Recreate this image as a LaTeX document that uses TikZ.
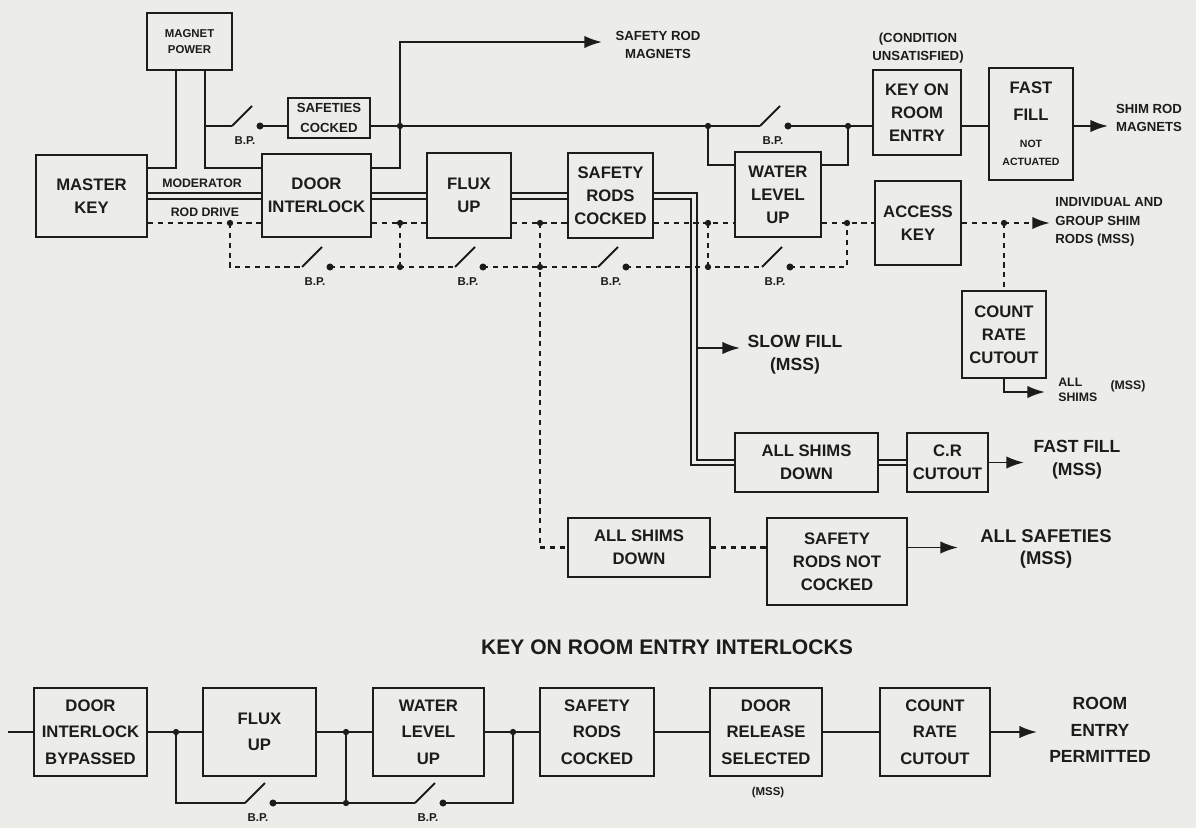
\documentclass[tikz,border=0pt]{standalone}
\usepackage{fontspec}
\setmainfont{Liberation Sans}
\usetikzlibrary{arrows.meta}
\definecolor{paper}{RGB}{236,236,233}
\definecolor{ink}{RGB}{28,28,28}
\tikzset{
  wire/.style={draw=ink, line width=1.1pt},
  arr/.style={wire, -{Latex[length=10pt,width=7pt]}},
  dotl/.style={draw=ink, line width=1.4pt, dash pattern=on 3pt off 2.6pt},
  darr/.style={dotl, -{Latex[length=10pt,width=7pt]}},
  dbl/.style={draw=ink, line width=1pt, double=paper, double distance=2.2pt},
  blk/.style={draw=ink, line width=1.2pt, align=center, inner sep=0.5pt, text=ink,
    font=\bfseries\fontsize{9.5}{13}\selectfont},
  bblk/.style={font=\bfseries\fontsize{9.5}{15}\selectfont},
  smallb/.style={font=\bfseries\fontsize{6.5}{9}\selectfont},
  midb/.style={font=\bfseries\fontsize{7.5}{11}\selectfont},
  lbl/.style={align=center, inner sep=0pt, text=ink, font=\bfseries\fontsize{7.5}{10.5}\selectfont},
  biglbl/.style={align=center, inner sep=0pt, text=ink, font=\bfseries\fontsize{10}{13}\selectfont},
  bp/.style={inner sep=0pt, text=ink, font=\bfseries\fontsize{6.5}{7}\selectfont}
}
\newcommand{\bx}[7][]{\node[blk,#1,minimum width={(#5-#3)*0.02cm},minimum height={(#6-#4)*0.02cm}] (#2) at ({(#3+#5)/2},{(#4+#6)/2}) {#7};}
\newcommand{\BPsw}[3]{%
  \coordinate (#1a) at (#2,#3);
  \coordinate (#1b) at ({#2+28},#3);
  \draw[wire] (#1a) -- ++(20,-20);
  \fill[ink] (#1b) circle (2pt);
  \node[bp] (#1l) at ({#2+13},{#3+15}) {B.P.};
}
\newcommand{\jd}[1]{\fill[ink] (#1) circle (1.8pt);}
\begin{document}
\begin{tikzpicture}[x=0.02cm,y=-0.02cm]
\fill[paper] (0,0) rectangle (1196,828);
\useasboundingbox (0,0) rectangle (1196,828);

% ---------- top boxes ----------
\bx[smallb]{mpow}{147}{13}{232}{70}{MAGNET\\POWER}
\bx{mkey}{36}{155}{147}{237}{MASTER\\KEY}
\bx[midb]{safc}{288}{98}{370}{138}{SAFETIES\\COCKED}
\bx{door}{262}{154}{371}{237}{DOOR\\INTERLOCK}
\bx{flux}{427}{153}{511}{238}{FLUX\\UP}
\bx{src}{568}{153}{653}{238}{SAFETY\\RODS\\COCKED}
\bx{wlu}{735}{152}{821}{237}{WATER\\LEVEL\\UP}
\bx{kre}{873}{70}{961}{155}{KEY ON\\ROOM\\ENTRY}
\bx{ffna}{989}{68}{1073}{180}{}
\node[biglbl, font=\bfseries\fontsize{9.5}{15}\selectfont] (fft) at (1031,101) {FAST\\FILL};
\node[bp, align=center, font=\bfseries\fontsize{6}{10}\selectfont] (nat) at (1031,153) {NOT\\ACTUATED};
\bx{akey}{875}{181}{961}{265}{ACCESS\\KEY}
\bx{crc}{962}{291}{1046}{378}{COUNT\\RATE\\CUTOUT}
\bx{asd}{735}{433}{878}{492}{ALL SHIMS\\DOWN}
\bx{crb}{907}{433}{988}{492}{C.R\\CUTOUT}
\bx{asdb}{568}{518}{710}{577}{ALL SHIMS\\DOWN}
\bx{srnc}{767}{518}{907}{605}{SAFETY\\RODS NOT\\COCKED}

% ---------- top labels ----------
\node[lbl] (cond) at (918,48) {(CONDITION\\UNSATISFIED)};
\node[lbl] (srmt) at (658,45) {SAFETY ROD\\MAGNETS};
\node[lbl] (shmt) at (1149,118) {SHIM ROD\\MAGNETS};
\node[lbl, font=\bfseries\fontsize{7}{9}\selectfont] (modt) at (202,183) {MODERATOR};
\node[lbl, font=\bfseries\fontsize{7}{9}\selectfont] (rodt) at (205,212) {ROD DRIVE};
\node[lbl, align=left, anchor=west, font=\bfseries\fontsize{7.5}{10.5}\selectfont] (indt) at (1055,222) {INDIVIDUAL AND\\GROUP SHIM\\RODS (MSS)};
\node[biglbl] (slowt) at (795,355) {SLOW FILL\\(MSS)};
\node[biglbl] (fastt) at (1077,460) {FAST FILL\\(MSS)};
\node[biglbl, font=\bfseries\fontsize{10.5}{13}\selectfont] (allst) at (1046,549) {ALL SAFETIES\\(MSS)};
\node[lbl, align=left, anchor=west, font=\bfseries\fontsize{7}{8.5}\selectfont] (shimt) at (1058,390) {ALL\\SHIMS};
\node[lbl, font=\bfseries\fontsize{7}{8.5}\selectfont] (mssc) at (1128,386) {(MSS)};

% ---------- solid magnet network ----------
\coordinate (mpL) at (176,70);
\coordinate (mpR) at (205,70);
\draw[wire] (mpL) |- (mkey.east |- 0,168);
\draw[wire] (mpR) |- (door.west |- 0,168);
\BPsw{sa}{232}{126}
\draw[wire] (mpR |- saa) -- (saa);
\draw[wire] (sab) -- (safc.west |- sab);
\coordinate (J1) at (400,126);
\coordinate (K1) at (708,126);
\coordinate (L1) at (848,126);
\coordinate (srm) at (602,42);
\draw[wire] (safc.east |- J1) -- (J1);
\draw[arr] (door.east |- 0,168) -| (srm -| J1) -- (srm);
\BPsw{sb}{760}{126}
\draw[wire] (J1) -- (K1) -- (sba);
\draw[wire] (sbb) -- (L1) -- (kre.west |- L1);
\draw[wire] (K1) |- (wlu.west |- 0,165);
\draw[wire] (wlu.east |- 0,165) -| (L1);
\draw[wire] (kre.east |- L1) -- (ffna.west |- L1);
\coordinate (shm) at (1108,126);
\draw[arr] (ffna.east |- shm) -- (shm);
\jd{J1} \jd{K1} \jd{L1}

% ---------- double lines ----------
\coordinate (dv) at (694,462.5);
\draw[dbl] (mkey.east |- 0,196) -- (door.west |- 0,196);
\draw[dbl] (door.east |- 0,196) -- (flux.west |- 0,196);
\draw[dbl] (flux.east |- 0,196) -- (src.west |- 0,196);
\draw[dbl] (src.east |- 0,196) -| (dv) -- (asd.west);
\draw[dbl] (asd.east) -- (crb.west |- asd.east);
\coordinate (slw) at (697.8,348);
\draw[arr] (slw) -- (740,348);
\coordinate (ffo) at (1024,462.5);
\draw[arr] (crb.east |- ffo) -- (ffo);

% ---------- dotted network ----------
\coordinate (D1) at (230,223);
\coordinate (D2) at (400,223);
\coordinate (D3) at (540,223);
\coordinate (D4) at (708,223);
\coordinate (D5) at (847,223);
\coordinate (D6) at (1004,223);
\coordinate (ind) at (1050,223);
\draw[dotl] (mkey.east |- D1) -- (D1) -- (door.west |- D1);
\draw[dotl] (door.east |- D2) -- (flux.west |- D2);
\draw[dotl] (flux.east |- D3) -- (src.west |- D3);
\draw[dotl] (src.east |- D4) -- (wlu.west |- D4);
\draw[dotl] (wlu.east |- D5) -- (akey.west |- D5);
\draw[dotl] (akey.east |- D6) -- (D6);
\draw[darr] (D6) -- (ind);
\draw[dotl] (D6) -- (crc.north);
\BPsw{sc}{302}{267}
\BPsw{sd}{455}{267}
\BPsw{se}{598}{267}
\BPsw{sf}{762}{267}
\draw[dotl] (D1) |- (sca);
\draw[dotl] (scb) -- (D2 |- scb) -- (sda);
\draw[dotl] (D2) -- (D2 |- scb);
\draw[dotl] (sdb) -- (D3 |- sdb) -- (sea);
\draw[dotl] (seb) -- (D4 |- seb) -- (sfa);
\draw[dotl] (D4) -- (D4 |- seb);
\draw[dotl] (sfb) -| (D5);
\draw[dotl] (D3) |- (asdb.west);
\draw[dotl] (asdb.east) -- (srnc.west |- asdb.east);
\coordinate (als) at (958,547.5);
\draw[arr] (srnc.east |- als) -- (als);
\jd{D1} \jd{D2} \jd{D3} \jd{D4} \jd{D5} \jd{D6}
\jd{D2 |- scb} \jd{D3 |- sdb} \jd{D4 |- seb}
\coordinate (crs) at (1045,392);
\draw[arr] (crc.south) |- (crs);

% ---------- bottom section ----------
\node[text=ink, font=\bfseries\fontsize{12}{14}\selectfont] (title) at (667,647) {KEY ON ROOM ENTRY INTERLOCKS};
\bx[bblk]{dib}{34}{688}{147}{776}{DOOR\\INTERLOCK\\BYPASSED}
\bx[bblk]{fub}{203}{688}{316}{776}{FLUX\\UP}
\bx[bblk]{wlb}{373}{688}{484}{776}{WATER\\LEVEL\\UP}
\bx[bblk]{srb}{540}{688}{654}{776}{SAFETY\\RODS\\COCKED}
\bx[bblk]{drs}{710}{688}{822}{776}{DOOR\\RELEASE\\SELECTED}
\bx[bblk]{crr}{880}{688}{990}{776}{COUNT\\RATE\\CUTOUT}
\node[bp] (drm) at (768,793) {(MSS)};
\node[biglbl, font=\bfseries\fontsize{10}{15}\selectfont] (rep) at (1100,730) {ROOM\\ENTRY\\PERMITTED};
\coordinate (in) at (8,732);
\coordinate (j1) at (176,732);
\coordinate (j2) at (346,732);
\coordinate (j3) at (513,732);
\coordinate (rpo) at (1037,732);
\draw[wire] (in) -- (dib.west);
\draw[wire] (dib.east) -- (fub.west);
\draw[wire] (fub.east) -- (wlb.west);
\draw[wire] (wlb.east) -- (srb.west);
\draw[wire] (srb.east) -- (drs.west);
\draw[wire] (drs.east) -- (crr.west);
\draw[arr] (crr.east) -- (rpo);
\BPsw{sg}{245}{803}
\BPsw{sh}{415}{803}
\draw[wire] (j1) |- (sga);
\draw[wire] (sgb) -| (j2);
\draw[wire] (j2 |- sgb) -- (sha);
\draw[wire] (shb) -| (j3);
\jd{j1} \jd{j2} \jd{j3} \jd{j2 |- sgb}
\end{tikzpicture}
\end{document}
